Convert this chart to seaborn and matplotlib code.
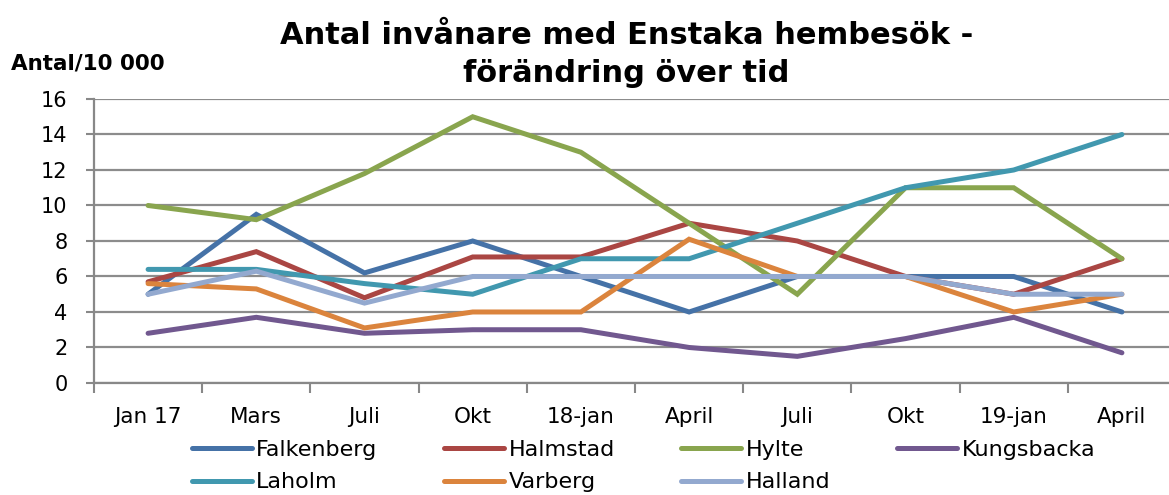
import numpy as np
import pandas as pd
import seaborn as sns
import matplotlib.pyplot as plt

# Data
perioder = ['Jan 17', 'Mars', 'Juli', 'Okt', '18-jan', 'April', 'Juli', 'Okt', '19-jan', 'April']
falkenberg = [5.0, 9.5, 6.2, 8.0, 6.0, 4.0, 6.0, 6.0, 6.0, 4.0]
halmstad = [5.7, 7.4, 4.8, 7.1, 7.1, 9.0, 8.0, 6.0, 5.0, 7.0]
hylte = [10.0, 9.2, 11.8, 15.0, 13.0, 9.0, 5.0, 11.0, 11.0, 7.0]
kungsbacka = [2.8, 3.7, 2.8, 3.0, 3.0, 2.0, 1.5, 2.5, 3.7, 1.7]
laholm = [6.4, 6.4, 5.6, 5.0, 7.0, 7.0, 9.0, 11.0, 12.0, 14.0]
varberg = [5.6, 5.3, 3.1, 4.0, 4.0, 8.1, 6.0, 6.0, 4.0, 5.0]
halland = [5.0, 6.3, 4.5, 6.0, 6.0, 6.0, 6.0, 6.0, 5.0, 5.0]

namn = ['Falkenberg', 'Halmstad', 'Hylte', 'Kungsbacka', 'Laholm', 'Varberg', 'Halland']
farger = ['#4572A7', '#AA4643', '#89A54E', '#71588F', '#4198AF', '#DB843D', '#93A9CF']

serier = [falkenberg, halmstad, hylte, kungsbacka, laholm, varberg, halland]
rows = []
for n, vals in zip(namn, serier):
    for i, v in enumerate(vals):
        rows.append({'pos': i, 'Kommun': n, 'Antal': v})
df = pd.DataFrame(rows)

sns.set_style('white')
plt.rcParams['font.family'] = ['DejaVu Sans']
plt.rcParams['text.color'] = 'black'
plt.rcParams['xtick.color'] = 'black'
plt.rcParams['ytick.color'] = 'black'

fig = plt.figure(figsize=(11.69, 4.95), dpi=100)
ax = fig.add_axes([0.0804, 0.2263, 0.9256, 0.5737])

sns.lineplot(data=df, x='pos', y='Antal', hue='Kommun', hue_order=namn,
             palette=farger, linewidth=3.6, sort=False, ax=ax,
             solid_capstyle='round', solid_joinstyle='miter')

ax.set_xlim(-0.5, 9.5)
ax.set_ylim(0, 16)
ax.set_yticks(np.arange(0, 17, 2))
ax.set_xticks(range(len(perioder)))
ax.set_xticklabels(perioder)
ax.set_xticks(np.arange(-0.5, 10, 1), minor=True)
ax.tick_params(axis='x', which='major', bottom=True, length=0, pad=17, labelsize=15.5)
ax.tick_params(axis='x', which='minor', bottom=True, length=7, width=1.5, color='#888888', direction='out')
ax.tick_params(axis='y', left=True, length=6, width=1.5, color='#888888', direction='out', pad=13,
               labelsize=15, labelcolor='black')
ax.tick_params(axis='x', labelcolor='black')
ax.set_xlabel('')
ax.set_ylabel('')
ax.grid(axis='y', color='#8c8c8c', linewidth=1.6)
ax.set_axisbelow(True)
for s in ['top', 'right']:
    ax.spines[s].set_visible(False)
for s in ['left', 'bottom']:
    ax.spines[s].set_color('#888888')
    ax.spines[s].set_linewidth(1.6)

fig.text(0.536, 0.912, 'Antal invånare med Enstaka hembesök -', ha='center', va='baseline',
         fontsize=22, fontweight='bold', color='black')
fig.text(0.536, 0.834, 'förändring över tid', ha='center', va='baseline',
         fontsize=22, fontweight='bold', color='black')
fig.text(0.009, 0.859, 'Antal/10 000', ha='left', va='baseline', fontsize=15.5,
         fontweight='bold', color='black')

# legend filled row by row
handles, labels = ax.get_legend_handles_labels()
order = [0, 4, 1, 5, 2, 6, 3]
leg = ax.legend([handles[i] for i in order], [labels[i] for i in order], ncol=4,
                loc='upper left', bbox_to_anchor=(0.082, -0.17), frameon=False,
                fontsize=16, handlelength=2.7, columnspacing=3.0, handletextpad=0.2,
                labelspacing=0.55, borderaxespad=0)
for t in leg.get_texts():
    t.set_color('black')

fig.savefig('out.png', dpi=100)
